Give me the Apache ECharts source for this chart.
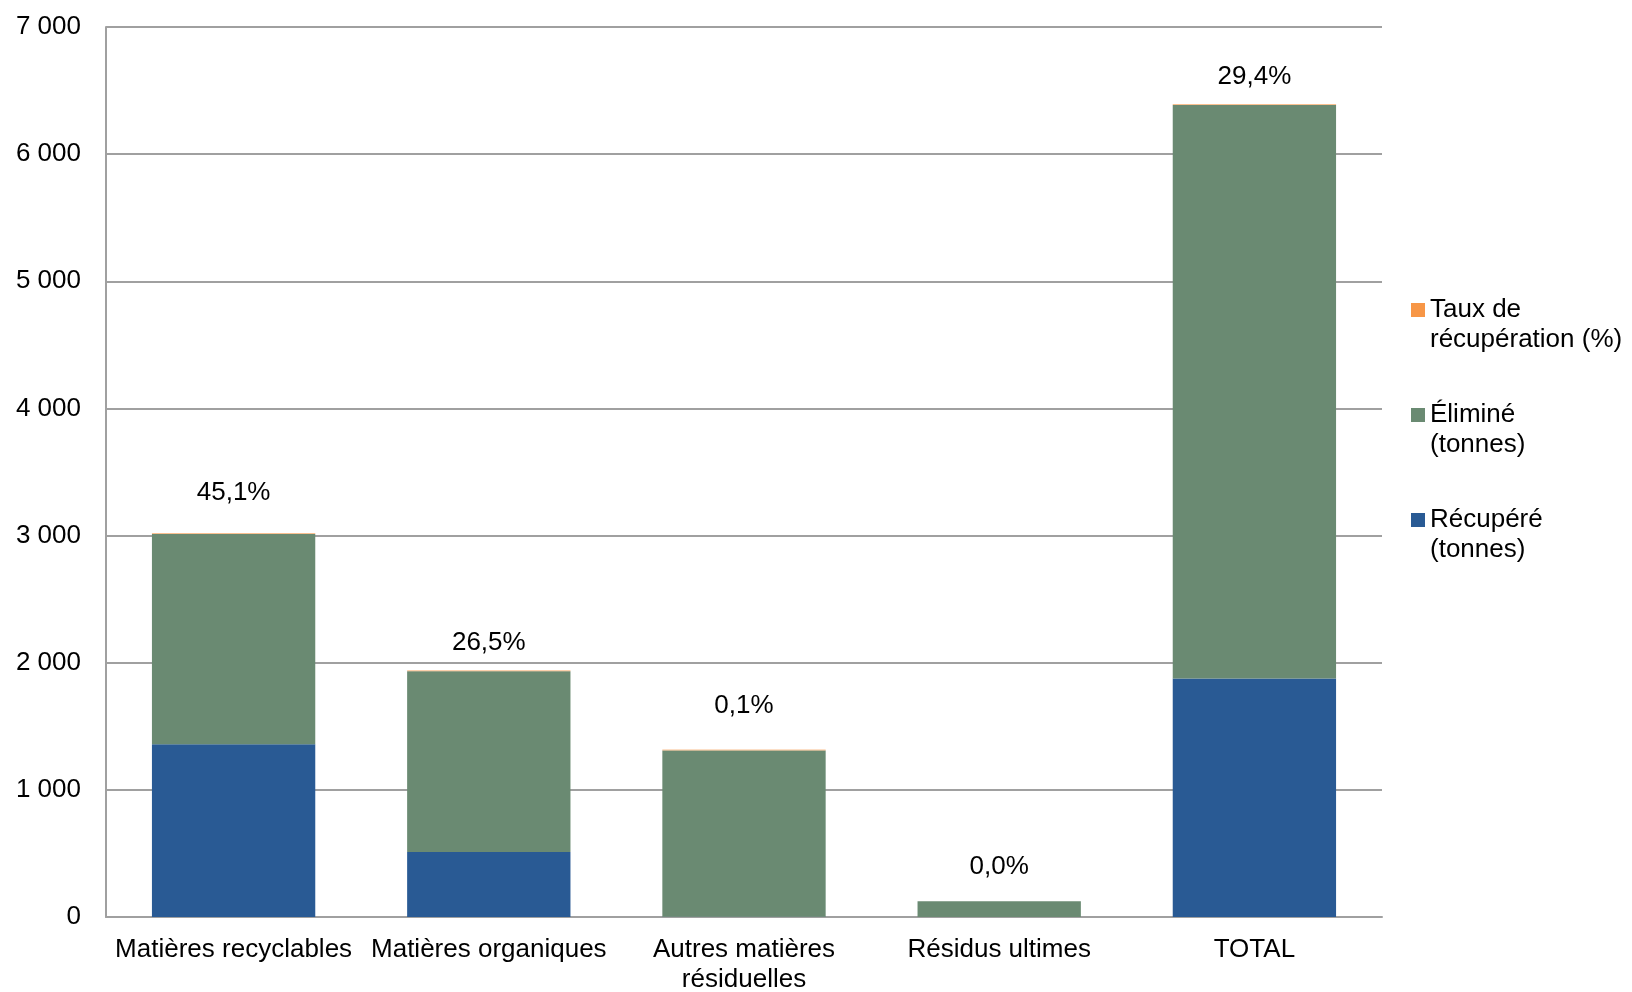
<!DOCTYPE html>
<html>
<head>
<meta charset="utf-8">
<script src="https://cdn.jsdelivr.net/npm/echarts@6/dist/echarts.min.js"></script>
<style>
html,body{margin:0;padding:0;background:#fff;}
#chart{width:1632px;height:992px;}
</style>
</head>
<body>
<div id="chart"></div>
<script>
// ---- data ----
const categories = ['Matières recyclables', 'Matières organiques', 'Autres matières\nrésiduelles', 'Résidus ultimes', 'TOTAL'];
const recupere = [1358, 512, 1.3, 0, 1875];          // Récupéré (tonnes)
const elimine = [1654, 1420, 1309, 123, 4511];       // Éliminé (tonnes)
const tauxRecuperation = [0.451, 0.265, 0.001, 0.0, 0.294]; // Taux de récupération (fraction)
const yTicks = [0, 1000, 2000, 3000, 4000, 5000, 6000, 7000];

// label spacing above each stack (layout, not data)
const labelDistance = [27, 15, 31, 21, 14];

const FONT = '"Liberation Sans", Arial, sans-serif';
const chart = echarts.init(document.getElementById('chart'), null, {renderer: 'canvas'});

function fmtThousands(v) {
  return String(v).replace(/\B(?=(\d{3})+(?!\d))/g, ' ');
}
function fmtPct(v) {
  return (v * 100).toFixed(1).replace('.', ',') + '%';
}

const tauxData = tauxRecuperation.map((v, i) => ({
  value: v,
  itemStyle: v === 0 ? {color: 'rgba(0,0,0,0)'} : undefined,
  label: {distance: labelDistance[i]}
}));

const NAME_TAUX = 'Taux de\nrécupération (%)';
const NAME_ELIM = 'Éliminé\n(tonnes)';
const NAME_RECUP = 'Récupéré\n(tonnes)';

const option = {
  backgroundColor: '#ffffff',
  animation: false,
  textStyle: {fontFamily: FONT},
  grid: {left: 106, right: 250, top: 27, bottom: 75, containLabel: false, outerBoundsMode: 'none'},
  legend: {
    orient: 'vertical',
    left: 1406,
    top: 260,
    icon: 'rect',
    itemWidth: 14,
    itemHeight: 14,
    itemGap: 15,
    formatter: name => '\n' + name,
    data: [
      {name: NAME_TAUX, itemStyle: {color: '#F79646', opacity: 1}},
      {name: NAME_ELIM},
      {name: NAME_RECUP}
    ],
    textStyle: {fontSize: 26, color: '#000', fontFamily: FONT, lineHeight: 30}
  },
  xAxis: {
    type: 'category',
    data: categories,
    axisLine: {show: true, lineStyle: {color: '#a0a0a0', width: 2}},
    axisTick: {show: false},
    axisLabel: {fontSize: 26, color: '#000', fontFamily: FONT, margin: 18, lineHeight: 30, interval: 0}
  },
  yAxis: {
    type: 'value',
    min: yTicks[0],
    max: yTicks[yTicks.length - 1],
    interval: 1000,
    axisLine: {show: true, lineStyle: {color: '#a0a0a0', width: 2}},
    axisTick: {show: false},
    splitLine: {show: true, lineStyle: {color: '#a0a0a0', width: 2}},
    axisLabel: {fontSize: 26, color: '#000', fontFamily: FONT, margin: 25, padding: [3, 0, 0, 0], formatter: fmtThousands}
  },
  series: [
    {
      name: NAME_RECUP,
      type: 'bar',
      stack: 'total',
      barWidth: '64%',
      data: recupere,
      itemStyle: {color: '#295A94'}
    },
    {
      name: NAME_ELIM,
      type: 'bar',
      stack: 'total',
      barWidth: '64%',
      data: elimine,
      itemStyle: {color: '#6A8A72'}
    },
    {
      name: NAME_TAUX,
      type: 'bar',
      stack: 'total',
      barWidth: '64%',
      barMinHeight: 1,
      data: tauxData,
      itemStyle: {color: 'rgba(247,150,70,0.6)'},
      label: {
        show: true,
        position: 'top',
        fontSize: 26,
        color: '#000',
        fontFamily: FONT,
        formatter: p => fmtPct(p.value)
      }
    }
  ]
};
chart.setOption(option);
</script>
</body>
</html>
